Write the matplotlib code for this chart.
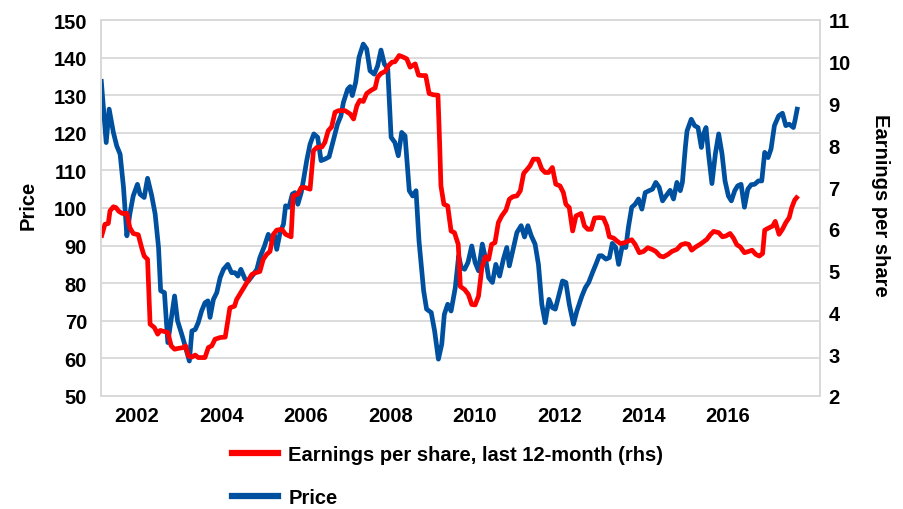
import matplotlib
matplotlib.use("Agg")
import matplotlib.pyplot as plt
from matplotlib.lines import Line2D

plt.rcParams['font.family'] = ['Liberation Sans', 'DejaVu Sans']
plt.rcParams['font.weight'] = 'bold'

# ---------------- data ----------------
price_dates = [
    2001.15, 2001.27, 2001.34, 2001.44, 2001.52, 2001.60, 2001.68, 2001.76, 2001.83, 2001.91,
    2002.01, 2002.07, 2002.17, 2002.25, 2002.35, 2002.43, 2002.51, 2002.56, 2002.65, 2002.73,
    2002.81, 2002.89, 2002.96, 2003.06, 2003.14, 2003.24, 2003.30, 2003.38, 2003.45, 2003.53,
    2003.61, 2003.68, 2003.73, 2003.81, 2003.89, 2003.97, 2004.05, 2004.15, 2004.24, 2004.32,
    2004.39, 2004.46, 2004.56, 2004.64, 2004.76, 2004.84, 2004.91, 2005.02, 2005.11, 2005.19,
    2005.25, 2005.31, 2005.39, 2005.47, 2005.52, 2005.60, 2005.68, 2005.74, 2005.81, 2005.89,
    2005.94, 2006.02, 2006.10, 2006.19, 2006.28, 2006.36, 2006.45, 2006.55, 2006.65, 2006.75,
    2006.83, 2006.89, 2006.99, 2007.05, 2007.10, 2007.18, 2007.26, 2007.36, 2007.44, 2007.52,
    2007.62, 2007.70, 2007.78, 2007.86, 2007.94, 2008.02, 2008.11, 2008.19, 2008.27, 2008.35,
    2008.45, 2008.53, 2008.61, 2008.68, 2008.79, 2008.86, 2008.97, 2009.05, 2009.14, 2009.22,
    2009.28, 2009.36, 2009.44, 2009.54, 2009.62, 2009.68, 2009.76, 2009.84, 2009.93, 2010.01,
    2010.09, 2010.18, 2010.26, 2010.33, 2010.42, 2010.50, 2010.59, 2010.68, 2010.76, 2010.82,
    2010.90, 2011.00, 2011.10, 2011.18, 2011.26, 2011.34, 2011.43, 2011.51, 2011.59, 2011.67,
    2011.76, 2011.84, 2011.91, 2012.00, 2012.08, 2012.16, 2012.24, 2012.34, 2012.42, 2012.54,
    2012.62, 2012.70, 2012.79, 2012.87, 2012.95, 2013.01, 2013.11, 2013.19, 2013.26, 2013.34,
    2013.41, 2013.49, 2013.58, 2013.64, 2013.72, 2013.80, 2013.88, 2013.96, 2014.04, 2014.13,
    2014.21, 2014.29, 2014.37, 2014.45, 2014.53, 2014.63, 2014.71, 2014.79, 2014.87, 2014.92,
    2014.99, 2015.03, 2015.13, 2015.21, 2015.29, 2015.37, 2015.42, 2015.48, 2015.54, 2015.62,
    2015.70, 2015.78, 2015.86, 2015.93, 2016.01, 2016.08, 2016.16, 2016.23, 2016.31, 2016.39,
    2016.47, 2016.55, 2016.63, 2016.72, 2016.80, 2016.87, 2016.95, 2017.02, 2017.10, 2017.20,
    2017.29, 2017.37, 2017.45, 2017.55, 2017.59, 2017.65,
]
price = [
    134.3, 117.4, 126.3, 120.1, 116.5, 114.3, 105.5, 92.6, 98.4, 103.2,
    106.3, 103.7, 102.8, 107.9, 103.2, 98.4, 89.5, 78.0, 77.5, 64.2,
    70.4, 76.6, 70.0, 66.4, 63.3, 59.3, 67.3, 67.7, 69.5, 72.6,
    74.8, 75.3, 70.9, 75.7, 77.5, 81.5, 83.7, 85.0, 82.8, 82.8,
    81.9, 83.7, 81.1, 80.6, 82.4, 83.7, 86.8, 89.9, 93.0, 91.2,
    93.0, 89.0, 93.5, 95.7, 100.6, 100.2, 103.7, 104.1, 101.0, 104.1,
    107.2, 112.6, 117.0, 119.7, 118.8, 112.6, 113.0, 113.6, 117.9, 122.3,
    124.5, 128.1, 131.6, 132.3, 129.9, 133.4, 140.1, 143.6, 142.3, 136.5,
    135.6, 137.8, 142.0, 138.3, 137.0, 118.8, 117.4, 113.9, 120.1, 119.2,
    104.6, 103.2, 104.6, 91.3, 78.0, 73.1, 72.2, 67.3, 59.8, 63.8,
    71.7, 74.4, 72.6, 78.8, 87.3, 84.2, 83.7, 85.5, 89.9, 85.5,
    83.3, 90.4, 86.4, 81.5, 80.2, 85.0, 81.9, 86.4, 89.5, 84.6,
    88.6, 93.5, 95.3, 92.3, 95.3, 92.6, 90.4, 85.0, 74.4, 69.5,
    75.7, 73.5, 73.1, 77.1, 80.6, 80.2, 74.4, 69.1, 72.6, 76.6,
    78.8, 80.2, 82.8, 85.0, 87.3, 87.3, 86.4, 86.8, 90.6, 89.5,
    85.0, 89.6, 89.5, 94.8, 100.2, 101.0, 102.4, 99.7, 104.1, 104.6,
    105.0, 106.8, 105.5, 101.9, 103.2, 104.7, 102.4, 106.8, 104.6, 106.8,
    116.1, 120.5, 123.6, 121.9, 121.4, 116.1, 119.7, 121.4, 114.3, 106.5,
    114.3, 119.7, 114.3, 107.2, 103.2, 101.9, 104.6, 105.9, 106.3, 100.2,
    105.0, 106.2, 106.3, 107.2, 107.2, 114.8, 113.4, 115.7, 121.9, 124.5,
    125.2, 121.9, 122.3, 121.4, 123.4, 126.9,
]

eps_dates = [
    2001.15, 2001.24, 2001.32, 2001.36, 2001.44, 2001.50, 2001.57, 2001.65, 2001.76, 2001.83,
    2001.91, 2002.03, 2002.11, 2002.17, 2002.25, 2002.31, 2002.41, 2002.49, 2002.55, 2002.66,
    2002.73, 2002.81, 2002.89, 2002.98, 2003.10, 2003.15, 2003.22, 2003.30, 2003.38, 2003.45,
    2003.61, 2003.69, 2003.77, 2003.85, 2003.97, 2004.09, 2004.20, 2004.31, 2004.36, 2004.48,
    2004.60, 2004.72, 2004.81, 2004.91, 2004.99, 2005.07, 2005.15, 2005.23, 2005.31, 2005.43,
    2005.52, 2005.65, 2005.70, 2005.81, 2005.89, 2005.98, 2006.10, 2006.18, 2006.26, 2006.38,
    2006.45, 2006.53, 2006.61, 2006.69, 2006.77, 2006.93, 2007.05, 2007.13, 2007.21, 2007.28,
    2007.36, 2007.44, 2007.55, 2007.64, 2007.70, 2007.78, 2007.88, 2007.96, 2008.04, 2008.11,
    2008.21, 2008.31, 2008.39, 2008.47, 2008.59, 2008.67, 2008.76, 2008.84, 2008.92, 2009.02,
    2009.13, 2009.17, 2009.20, 2009.27, 2009.36, 2009.44, 2009.52, 2009.61, 2009.66, 2009.76,
    2009.85, 2009.93, 2010.01, 2010.09, 2010.17, 2010.25, 2010.33, 2010.40, 2010.48, 2010.56,
    2010.64, 2010.74, 2010.82, 2010.90, 2011.00, 2011.08, 2011.16, 2011.23, 2011.31, 2011.39,
    2011.50, 2011.59, 2011.67, 2011.75, 2011.84, 2011.92, 2012.02, 2012.10, 2012.16, 2012.24,
    2012.32, 2012.40, 2012.52, 2012.60, 2012.68, 2012.76, 2012.84, 2012.95, 2013.05, 2013.13,
    2013.19, 2013.29, 2013.37, 2013.45, 2013.55, 2013.64, 2013.72, 2013.80, 2013.90, 2014.00,
    2014.10, 2014.20, 2014.29, 2014.39, 2014.47, 2014.58, 2014.67, 2014.79, 2014.89, 2014.99,
    2015.07, 2015.14, 2015.24, 2015.34, 2015.50, 2015.58, 2015.66, 2015.78, 2015.87, 2015.95,
    2016.05, 2016.13, 2016.21, 2016.29, 2016.39, 2016.49, 2016.57, 2016.66, 2016.74, 2016.82,
    2016.87, 2016.96, 2017.06, 2017.12, 2017.21, 2017.29, 2017.37, 2017.45, 2017.51, 2017.58,
    2017.66,
]
eps = [
    5.79, 6.11, 6.13, 6.43, 6.53, 6.51, 6.42, 6.37, 6.37, 6.03,
    5.89, 5.86, 5.55, 5.35, 5.27, 3.72, 3.64, 3.48, 3.57, 3.54,
    3.52, 3.20, 3.12, 3.14, 3.16, 3.20, 2.96, 2.93, 2.98, 2.92,
    2.92, 3.16, 3.20, 3.36, 3.40, 3.41, 4.11, 4.15, 4.31, 4.51,
    4.71, 4.91, 4.95, 4.98, 5.27, 5.39, 5.46, 5.87, 5.97, 5.99,
    5.87, 5.81, 6.79, 6.83, 6.99, 6.99, 6.95, 7.87, 7.95, 7.96,
    8.07, 8.35, 8.44, 8.79, 8.83, 8.83, 8.75, 8.63, 8.95, 9.08,
    9.05, 9.24, 9.32, 9.37, 9.63, 9.72, 9.77, 9.91, 9.99, 10.00,
    10.15, 10.11, 10.07, 9.87, 9.95, 9.68, 9.67, 9.67, 9.24, 9.21,
    9.20, 8.03, 7.03, 6.59, 6.55, 5.95, 5.91, 5.63, 4.62, 4.55,
    4.43, 4.19, 4.18, 4.39, 5.07, 5.33, 5.27, 5.63, 5.67, 6.15,
    6.31, 6.45, 6.71, 6.77, 6.79, 6.91, 7.33, 7.41, 7.51, 7.67,
    7.67, 7.43, 7.35, 7.35, 7.47, 7.07, 7.03, 6.87, 6.59, 6.51,
    5.95, 6.31, 6.37, 6.07, 5.99, 5.99, 6.26, 6.27, 6.26, 6.07,
    5.81, 5.78, 5.71, 5.65, 5.67, 5.71, 5.74, 5.63, 5.43, 5.46,
    5.55, 5.51, 5.46, 5.35, 5.33, 5.39, 5.46, 5.51, 5.62, 5.65,
    5.63, 5.49, 5.57, 5.63, 5.75, 5.86, 5.94, 5.91, 5.81, 5.83,
    5.89, 5.78, 5.62, 5.57, 5.43, 5.46, 5.49, 5.39, 5.35, 5.41,
    5.97, 6.02, 6.07, 6.18, 5.87, 5.99, 6.15, 6.27, 6.51, 6.69,
    6.79,
]

year_ticks = [2002, 2004, 2006, 2008, 2010, 2012, 2014, 2016]
year_labels = ["2002", "2004", "2006", "2008", "2010", "2012", "2014", "2016"]
price_ticks = [50, 60, 70, 80, 90, 100, 110, 120, 130, 140, 150]
eps_ticks = [2, 3, 4, 5, 6, 7, 8, 9, 10, 11]

label_price = "Price"
label_eps = "Earnings per share, last 12-month (rhs)"
label_eps_axis = "Earnings per share"

# ---------------- style ----------------
BLUE = "#0050A0"
RED = "#FF0000"
GRID = "#D9D9D9"
FS = 14.5

fig = plt.figure(figsize=(9.04, 5.10), dpi=100)
ax = fig.add_axes([101 / 904, 1 - 397 / 510, (820 - 101) / 904, (397 - 21) / 510])
ax2 = ax.twinx()

ax.plot(price_dates, price, color=BLUE, lw=3.4, solid_joinstyle='round', solid_capstyle='butt')
ax2.plot(eps_dates, eps, color=RED, lw=3.4, solid_joinstyle='round', solid_capstyle='butt')

ax.set_xlim(2001.147, 2018.18)
ax.set_ylim(50, 150)
ax2.set_ylim(2, 11)

ax.set_yticks(price_ticks)
ax2.set_yticks(eps_ticks)
ax.set_xticks(year_ticks)
ax.set_xticklabels(year_labels)

ax.grid(axis='y', color=GRID, lw=1.3)
ax.set_axisbelow(True)

for a in (ax, ax2):
    for s in a.spines.values():
        s.set_color(GRID)
        s.set_linewidth(1.3)

ax.tick_params(axis='both', length=0, labelsize=FS)
ax.tick_params(axis='y', pad=10)
ax.tick_params(axis='x', pad=7)
ax2.tick_params(axis='y', length=0, labelsize=FS, pad=6)
for lab in ax.get_xticklabels() + ax.get_yticklabels() + ax2.get_yticklabels():
    lab.set_fontweight('bold')

fig.text(28 / 904, 1 - 205 / 510, label_price, rotation=90, fontsize=FS, fontweight='bold',
         ha='center', va='center')
fig.text(881 / 904, 1 - 205 / 510, label_eps_axis, rotation=-90, fontsize=FS, fontweight='bold',
         ha='center', va='center')

handles = [Line2D([], [], color=RED, lw=4.5), Line2D([], [], color=BLUE, lw=4.5)]
leg = fig.legend(handles, [label_eps, label_price], loc='upper left',
                 bbox_to_anchor=(232 / 904, 1 - 446 / 510), frameon=False,
                 prop={'size': FS, 'weight': 'bold'}, handlelength=2.3, handletextpad=0.5,
                 labelspacing=1.2, borderpad=0, borderaxespad=0)

fig.savefig("out.png", dpi=100)
